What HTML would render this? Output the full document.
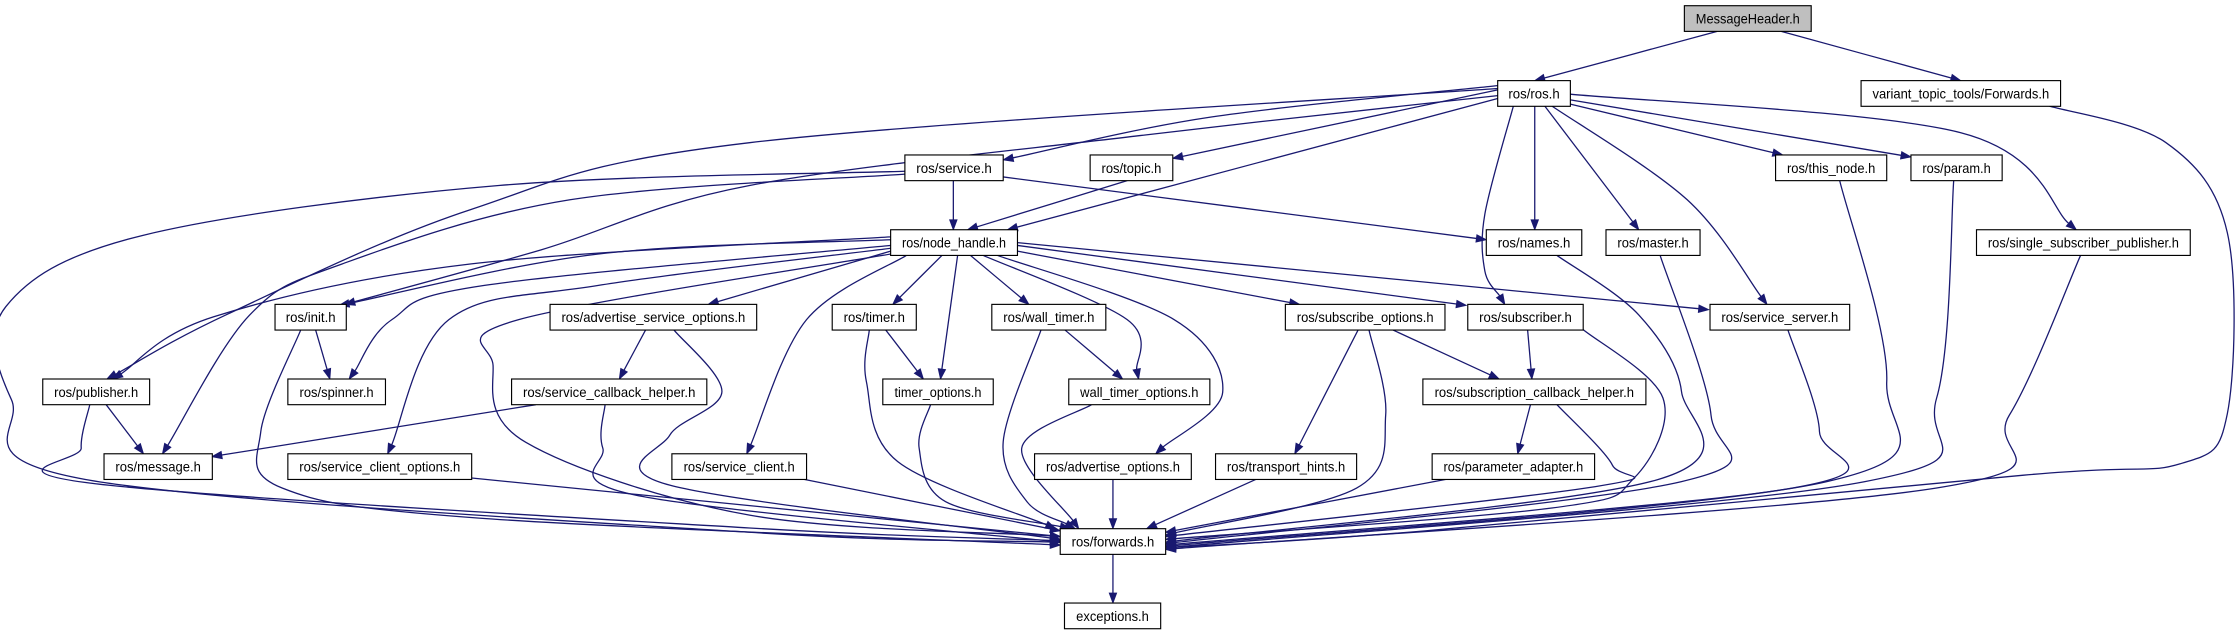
<!DOCTYPE html>
<html><head><meta charset="utf-8">
<style>
html,body{margin:0;padding:0;background:#fff;}
svg{display:block;}
text{font-family:"Liberation Sans",Helvetica,sans-serif;font-size:9.5px;fill:#000;}
rect{fill:#fff;stroke:#000;stroke-width:0.8;}
</style></head>
<body>
<svg id="g" width="2235" height="635" viewBox="0 0 1568.4 445" preserveAspectRatio="none" xmlns="http://www.w3.org/2000/svg">
<g id="edges"></g>
<g id="nodes">
<rect x="1182" y="4" width="89" height="18" style="fill:#bfbfbf"/><text x="1226.5" y="16.5" text-anchor="middle" textLength="73" lengthAdjust="spacingAndGlyphs">MessageHeader.h</text>
<rect x="1051" y="56.5" width="51" height="18"/><text x="1076.5" y="69" text-anchor="middle" textLength="36" lengthAdjust="spacingAndGlyphs">ros/ros.h</text>
<rect x="1306" y="56.5" width="140" height="18"/><text x="1376" y="69" text-anchor="middle" textLength="124" lengthAdjust="spacingAndGlyphs">variant_topic_tools/Forwards.h</text>
<rect x="635" y="108.6" width="69" height="18"/><text x="669.5" y="121.1" text-anchor="middle" textLength="53" lengthAdjust="spacingAndGlyphs">ros/service.h</text>
<rect x="765" y="108.6" width="58" height="18"/><text x="794" y="121.1" text-anchor="middle" textLength="42" lengthAdjust="spacingAndGlyphs">ros/topic.h</text>
<rect x="1246" y="108.6" width="78" height="18"/><text x="1285" y="121.1" text-anchor="middle" textLength="62" lengthAdjust="spacingAndGlyphs">ros/this_node.h</text>
<rect x="1341" y="108.6" width="64" height="18"/><text x="1373" y="121.1" text-anchor="middle" textLength="48" lengthAdjust="spacingAndGlyphs">ros/param.h</text>
<rect x="625" y="161" width="89" height="18"/><text x="669.5" y="173.5" text-anchor="middle" textLength="73" lengthAdjust="spacingAndGlyphs">ros/node_handle.h</text>
<rect x="1043" y="161" width="67" height="18"/><text x="1076.5" y="173.5" text-anchor="middle" textLength="51" lengthAdjust="spacingAndGlyphs">ros/names.h</text>
<rect x="1127" y="161" width="66" height="18"/><text x="1160" y="173.5" text-anchor="middle" textLength="50" lengthAdjust="spacingAndGlyphs">ros/master.h</text>
<rect x="1387" y="161" width="150" height="18"/><text x="1462" y="173.5" text-anchor="middle" textLength="134" lengthAdjust="spacingAndGlyphs">ros/single_subscriber_publisher.h</text>
<rect x="193" y="213.3" width="50" height="18"/><text x="218" y="225.8" text-anchor="middle" textLength="35" lengthAdjust="spacingAndGlyphs">ros/init.h</text>
<rect x="386" y="213.3" width="145" height="18"/><text x="458.5" y="225.8" text-anchor="middle" textLength="129" lengthAdjust="spacingAndGlyphs">ros/advertise_service_options.h</text>
<rect x="584" y="213.3" width="59" height="18"/><text x="613.5" y="225.8" text-anchor="middle" textLength="43" lengthAdjust="spacingAndGlyphs">ros/timer.h</text>
<rect x="696" y="213.3" width="80" height="18"/><text x="736" y="225.8" text-anchor="middle" textLength="64" lengthAdjust="spacingAndGlyphs">ros/wall_timer.h</text>
<rect x="902" y="213.3" width="112" height="18"/><text x="958" y="225.8" text-anchor="middle" textLength="96" lengthAdjust="spacingAndGlyphs">ros/subscribe_options.h</text>
<rect x="1030" y="213.3" width="81" height="18"/><text x="1070.5" y="225.8" text-anchor="middle" textLength="65" lengthAdjust="spacingAndGlyphs">ros/subscriber.h</text>
<rect x="1200" y="213.3" width="98" height="18"/><text x="1249" y="225.8" text-anchor="middle" textLength="82" lengthAdjust="spacingAndGlyphs">ros/service_server.h</text>
<rect x="30" y="265.6" width="75" height="18"/><text x="67.5" y="278.1" text-anchor="middle" textLength="59" lengthAdjust="spacingAndGlyphs">ros/publisher.h</text>
<rect x="202" y="265.6" width="68.5" height="18"/><text x="236.2" y="278.1" text-anchor="middle" textLength="52" lengthAdjust="spacingAndGlyphs">ros/spinner.h</text>
<rect x="359" y="265.6" width="137" height="18"/><text x="427.5" y="278.1" text-anchor="middle" textLength="121" lengthAdjust="spacingAndGlyphs">ros/service_callback_helper.h</text>
<rect x="619.5" y="265.6" width="77.5" height="18"/><text x="658.2" y="278.1" text-anchor="middle" textLength="61" lengthAdjust="spacingAndGlyphs">timer_options.h</text>
<rect x="750" y="265.6" width="99" height="18"/><text x="799.5" y="278.1" text-anchor="middle" textLength="83" lengthAdjust="spacingAndGlyphs">wall_timer_options.h</text>
<rect x="998.5" y="265.6" width="156.5" height="18"/><text x="1076.7" y="278.1" text-anchor="middle" textLength="140" lengthAdjust="spacingAndGlyphs">ros/subscription_callback_helper.h</text>
<rect x="73" y="318" width="76" height="18"/><text x="111" y="330.5" text-anchor="middle" textLength="60" lengthAdjust="spacingAndGlyphs">ros/message.h</text>
<rect x="202" y="318" width="129" height="18"/><text x="266.5" y="330.5" text-anchor="middle" textLength="113" lengthAdjust="spacingAndGlyphs">ros/service_client_options.h</text>
<rect x="471.5" y="318" width="94.5" height="18"/><text x="518.7" y="330.5" text-anchor="middle" textLength="78" lengthAdjust="spacingAndGlyphs">ros/service_client.h</text>
<rect x="726" y="318" width="110" height="18"/><text x="781" y="330.5" text-anchor="middle" textLength="94" lengthAdjust="spacingAndGlyphs">ros/advertise_options.h</text>
<rect x="853" y="318" width="99" height="18"/><text x="902.5" y="330.5" text-anchor="middle" textLength="83" lengthAdjust="spacingAndGlyphs">ros/transport_hints.h</text>
<rect x="1005" y="318" width="114" height="18"/><text x="1062" y="330.5" text-anchor="middle" textLength="98" lengthAdjust="spacingAndGlyphs">ros/parameter_adapter.h</text>
<rect x="744" y="370.5" width="74" height="18"/><text x="781" y="383" text-anchor="middle" textLength="58" lengthAdjust="spacingAndGlyphs">ros/forwards.h</text>
<rect x="747" y="422.6" width="67.5" height="18"/><text x="780.7" y="435.1" text-anchor="middle" textLength="51" lengthAdjust="spacingAndGlyphs">exceptions.h</text>
</g>
</svg>
<script>
var E=[
[[1205,22],[1077,56.5]],
[[1250,22],[1376,56.5]],
[[1051,62],[526,100],[330,147],[160,220],[75,265.6]],
[[1051,67],[800,95],[526,130],[380,175],[242,213.3]],
[[1051,60],[850,82],[704,112]],
[[1051,63],[823,111]],
[[1051,69],[707,161]],
[[1062,74.3],[1042,150],[1042,190],[1056,213.3]],
[[1077,74.3],[1077,161]],
[[1084,74.3],[1150,161]],
[[1089,74.3],[1184,140],[1240,213.3]],
[[1102,73],[1251,108.6]],
[[1102,70],[1341,110]],
[[1102,66],[1376,93],[1457,161]],
[[1438,74.3],[1520,100],[1563,163],[1563,290],[1530,325],[1420,333],[1000,372],[818,384]],
[[669,126.6],[669,161]],
[[704,124],[1043,168]],
[[635,122],[400,140],[240,185],[175,221],[114,318]],
[[635,120],[350,130],[100,165],[4,215],[8,280],[60,336],[526,373],[744,380]],
[[791,126.6],[679,161]],
[[625,166],[330,185],[150,222],[79,265.6]],
[[625,168],[420,178],[238,214]],
[[625,172],[340,200],[275,224],[245,265.6]],
[[625,174],[420,200],[315,224],[272,318]],
[[625,176],[497,213.3]],
[[636,179],[566,224],[524,318]],
[[661,179],[626.5,213.3]],
[[672,179],[660,265.6]],
[[681,179],[722,213.3]],
[[690,179],[791,224],[799,265.6]],
[[700,179],[824,224],[858,275],[811,318]],
[[714,176],[912,213.3]],
[[714,172],[1029,214]],
[[714,170],[1199,217]],
[[625,178],[364,224],[346,256],[369,310],[526,361],[744,376]],
[[221.5,231.3],[231.5,265.6]],
[[211,231.3],[183,302.5],[198,342],[335,363],[744,382]],
[[453,231.3],[434.6,265.6]],
[[473,231.3],[506.6,274.5],[470,305],[470,340],[744,378]],
[[376,283.6],[148.7,320]],
[[424.6,283.6],[423,314],[446,347],[744,380]],
[[74.5,283.6],[100.7,318]],
[[63,283.6],[57,314],[67,339],[526,370],[744,379]],
[[331,335],[744,376]],
[[563,335.7],[744,372]],
[[610,231.3],[608,267.5],[630,323.5],[740.8,370.5]],
[[621.6,231.3],[648,265.6]],
[[653,283.6],[645,314],[663.6,351.6],[751,370.5]],
[[730.5,231.3],[704,309.5],[720.7,351.6],[754.4,370.5]],
[[747.4,231.3],[787.8,265.6]],
[[766,283.6],[717,314],[757,370.5]],
[[781,336],[781,370.5]],
[[881.8,335.7],[804.6,370.5]],
[[953,231.3],[908.6,318]],
[[960.7,231.3],[972.4,290.8],[952,342],[818,375]],
[[977.6,231.3],[1052,265.6]],
[[1072,231.3],[1075,265.6]],
[[1111,231],[1167,279],[1146.7,335],[1089,356],[818,378]],
[[1074,283.6],[1065,318]],
[[1092.6,283.6],[1131.5,326],[1119.6,341],[818,376]],
[[1016,335.7],[818,373]],
[[1092.6,179],[1150,220.7],[1180,274.5],[1163.6,336],[818,380]],
[[1165,179],[1200.7,291],[1180,337.5],[818,381]],
[[1254.7,231.3],[1276.8,302.5],[1258,342],[818,382]],
[[1291,126.6],[1324,267.5],[1282,337.5],[818,383]],
[[1371,126.6],[1359,279],[1308.7,337.5],[818,384]],
[[1460,179],[1410,291],[1359,342],[818,385]],
[[781,388.2],[781,422.6]]
];
var NS="http://www.w3.org/2000/svg",G=document.getElementById("edges"),C="#191970",AL=7,AW=2.6;
E.forEach(function(p){
 var n=p.length,e=p[n-1],q=p[n-2];
 var dx=e[0]-q[0],dy=e[1]-q[1];
 if(n>2){ // tangent from catmull-rom
  var c2x=e[0]-(e[0]-q[0])/3,c2y=e[1]-(e[1]-q[1])/3; dx=e[0]-c2x;dy=e[1]-c2y;}
 var L=Math.sqrt(dx*dx+dy*dy)||1;dx/=L;dy/=L;
 var b=[e[0]-dx*AL,e[1]-dy*AL];
 var pts=p.slice(0,n-1).concat([b]);
 var d="M"+pts[0][0]+","+pts[0][1];
 for(var i=0;i<pts.length-1;i++){
  var p0=pts[i-1]||pts[i],p1=pts[i],p2=pts[i+1],p3=pts[i+2]||pts[i+1];
  var c1=[p1[0]+(p2[0]-p0[0])/6,p1[1]+(p2[1]-p0[1])/6];
  var c2=[p2[0]-(p3[0]-p1[0])/6,p2[1]-(p3[1]-p1[1])/6];
  d+=" C"+c1[0]+","+c1[1]+" "+c2[0]+","+c2[1]+" "+p2[0]+","+p2[1];
 }
 var path=document.createElementNS(NS,"path");
 path.setAttribute("d",d);path.setAttribute("fill","none");path.setAttribute("stroke",C);path.setAttribute("stroke-width","0.9");
 G.appendChild(path);
 var tri=document.createElementNS(NS,"polygon");
 tri.setAttribute("points",e[0]+","+e[1]+" "+(b[0]-dy*AW)+","+(b[1]+dx*AW)+" "+(b[0]+dy*AW)+","+(b[1]-dx*AW));
 tri.setAttribute("fill",C);tri.setAttribute("stroke",C);tri.setAttribute("stroke-width","0.6");
 G.appendChild(tri);
});
</script>
</body></html>
